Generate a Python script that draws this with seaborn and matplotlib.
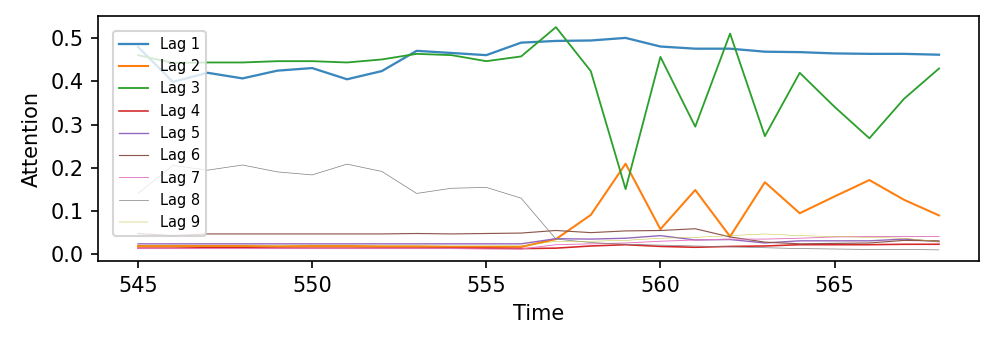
import matplotlib
matplotlib.use("Agg")
import matplotlib.pyplot as plt
import pandas as pd
import seaborn as sns

# time steps
time = list(range(545, 569))

# attention weights per lag
lag1 = [0.480, 0.399, 0.420, 0.407, 0.425, 0.431, 0.405, 0.424, 0.471, 0.466, 0.461, 0.490,
        0.494, 0.495, 0.501, 0.481, 0.476, 0.476, 0.469, 0.468, 0.465, 0.464, 0.464, 0.462]
lag2 = [0.018, 0.018, 0.018, 0.018, 0.017, 0.018, 0.018, 0.017, 0.017, 0.016, 0.016, 0.016,
        0.034, 0.090, 0.209, 0.057, 0.148, 0.040, 0.166, 0.094, 0.133, 0.171, 0.125, 0.089]
lag3 = [0.461, 0.443, 0.444, 0.444, 0.447, 0.447, 0.444, 0.451, 0.464, 0.461, 0.447, 0.458,
        0.526, 0.424, 0.150, 0.457, 0.295, 0.511, 0.273, 0.420, 0.341, 0.268, 0.360, 0.430]
lag4 = [0.013, 0.013, 0.014, 0.014, 0.013, 0.013, 0.013, 0.013, 0.013, 0.013, 0.013, 0.012,
        0.013, 0.018, 0.021, 0.017, 0.015, 0.017, 0.018, 0.021, 0.021, 0.021, 0.022, 0.022]
lag5 = [0.023, 0.023, 0.023, 0.023, 0.023, 0.023, 0.023, 0.023, 0.023, 0.023, 0.023, 0.023,
        0.035, 0.034, 0.036, 0.042, 0.032, 0.033, 0.025, 0.030, 0.030, 0.030, 0.034, 0.028]
lag6 = [0.047, 0.042, 0.046, 0.046, 0.046, 0.046, 0.046, 0.046, 0.047, 0.046, 0.047, 0.048,
        0.054, 0.049, 0.053, 0.054, 0.058, 0.039, 0.027, 0.023, 0.024, 0.025, 0.031, 0.030]
lag7 = [0.012, 0.012, 0.012, 0.012, 0.012, 0.012, 0.012, 0.012, 0.012, 0.012, 0.011, 0.011,
        0.021, 0.023, 0.025, 0.029, 0.032, 0.034, 0.034, 0.036, 0.039, 0.040, 0.040, 0.040]
lag8 = [0.140, 0.205, 0.194, 0.206, 0.190, 0.183, 0.208, 0.191, 0.140, 0.152, 0.154, 0.129,
        0.034, 0.026, 0.022, 0.020, 0.018, 0.016, 0.014, 0.012, 0.011, 0.010, 0.010, 0.009]
lag9 = [0.018, 0.018, 0.018, 0.018, 0.018, 0.018, 0.018, 0.018, 0.018, 0.018, 0.018, 0.018,
        0.029, 0.029, 0.031, 0.036, 0.038, 0.042, 0.046, 0.042, 0.040, 0.038, 0.036, 0.028]

series = [lag1, lag2, lag3, lag4, lag5, lag6, lag7, lag8, lag9]
labels = ["Lag %d" % (i + 1) for i in range(len(series))]
colors = sns.color_palette("tab10", len(series))

x_ticks = [545, 550, 555, 560, 565]
y_ticks = [0.0, 0.1, 0.2, 0.3, 0.4, 0.5]

fig, ax = plt.subplots(figsize=(6.64, 2.2467), dpi=150)
fig.subplots_adjust(left=0.0984, right=0.983, top=0.9525, bottom=0.2255)

# thinner line for each further lag
for i, (vals, lab) in enumerate(zip(series, labels)):
    df = pd.DataFrame({"Time": time, "Attention": vals})
    sns.lineplot(data=df, x="Time", y="Attention", ax=ax, label=lab,
                 color=colors[i], linewidth=1.1 - 0.11 * i,
                 alpha=0.88 if i == 0 else 1.0)

ax.set_xlabel("Time")
ax.set_ylabel("Attention")
ax.set_xticks(x_ticks)
ax.set_yticks(y_ticks)
ax.legend(loc="upper left", bbox_to_anchor=(0.017, 0.939), borderaxespad=0, fontsize=7)

fig.savefig("out.png", dpi=150)
